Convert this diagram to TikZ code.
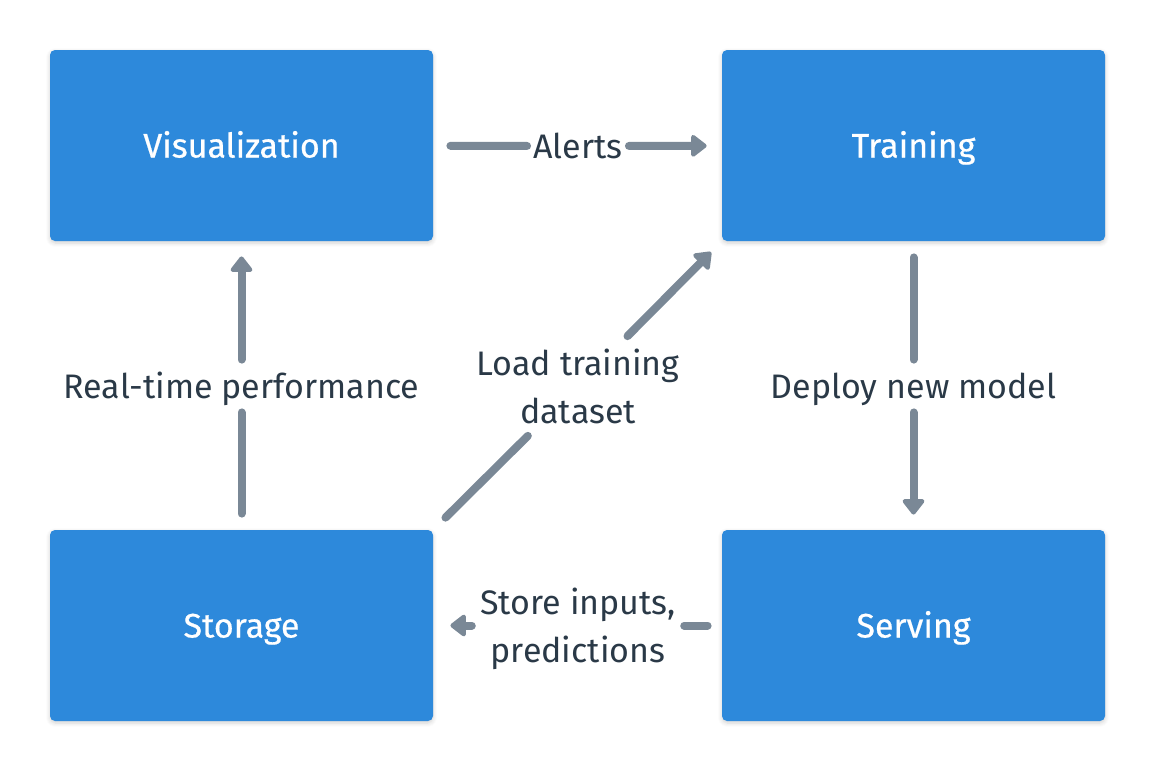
\documentclass[tikz,border=0pt]{standalone}
\usepackage{fontspec}
\setmainfont{Fira Sans}
\newfontfamily\boxfont[FakeBold=0.6]{Fira Sans}
\usetikzlibrary{arrows.meta,shadows.blur}

\definecolor{boxblue}{HTML}{2D89DB}
\definecolor{linkgray}{HTML}{7A8896}
\definecolor{labeltext}{HTML}{2A3947}

\tikzset{
    stage/.style={fill=boxblue, rounded corners=2.5pt, minimum width=191.5pt, minimum height=95.5pt,
        text=white, font=\boxfont\fontsize{17}{20}\selectfont, text height=12pt, text depth=0pt,
        blur shadow={shadow blur steps=6, shadow xshift=0pt, shadow yshift=-1pt, shadow opacity=18}},
    flowlabel/.style={text=labeltext, align=center, inner sep=3pt, font=\fontsize{17}{24}\selectfont},
    oneline/.style={text height=12pt, text depth=0pt, inner ysep=7pt},
    link/.style={draw=linkgray, line width=4pt, line cap=round},
    linkarrow/.style={link, -{Triangle[length=8.5pt, width=12.5pt, round]}}
}

\begin{document}
\begin{tikzpicture}[x=0.5pt, y=-0.5pt]
        \useasboundingbox (0,0) rectangle (1156,772);

        \node[stage] (visualization) at (241.5,145.5) {Visualization};
        \node[stage] (training) at (913.5,145.5) {Training};
        \node[stage] (storage) at (241.5,625.5) {Storage};
        \node[stage] (serving) at (913.5,625.5) {Serving};

        \node[flowlabel, oneline] (alerts) at (578,146) {Alerts};
        \node[flowlabel, oneline] (realtime) at (241.5,386) {Real-time performance};
        \node[flowlabel, oneline] (deploy) at (913.5,386) {Deploy new model};
        \node[flowlabel, inner sep=6pt] (loadData) at (578,386) {Load training\\dataset};
        \node[flowlabel, inner xsep=4pt] (storeInputs) at (578,629) {Store inputs,\\predictions};

        \draw[link, shorten <=8.5pt] (visualization) -- (alerts);
        \draw[linkarrow, shorten >=7.5pt] (alerts) -- (training);

        \draw[link, shorten <=8pt] (storage) -- (realtime);
        \draw[linkarrow, shorten >=7.5pt] (realtime) -- (visualization);

        \draw[link, shorten <=8pt] (training) -- (deploy);
        \draw[linkarrow, shorten >=7.5pt] (deploy) -- (serving);

        \draw[link, shorten <=7pt] (serving.west) -- (storeInputs.east |- serving.west);
        \draw[linkarrow, shorten >=8.5pt] (storeInputs.west |- storage.east) -- (storage.east);

        \draw[link, shorten <=8.5pt] (storage.north east) -- (loadData);
        \draw[linkarrow, shorten >=7.5pt] (loadData) -- (training.south west);
    \end{tikzpicture}
\end{document}
